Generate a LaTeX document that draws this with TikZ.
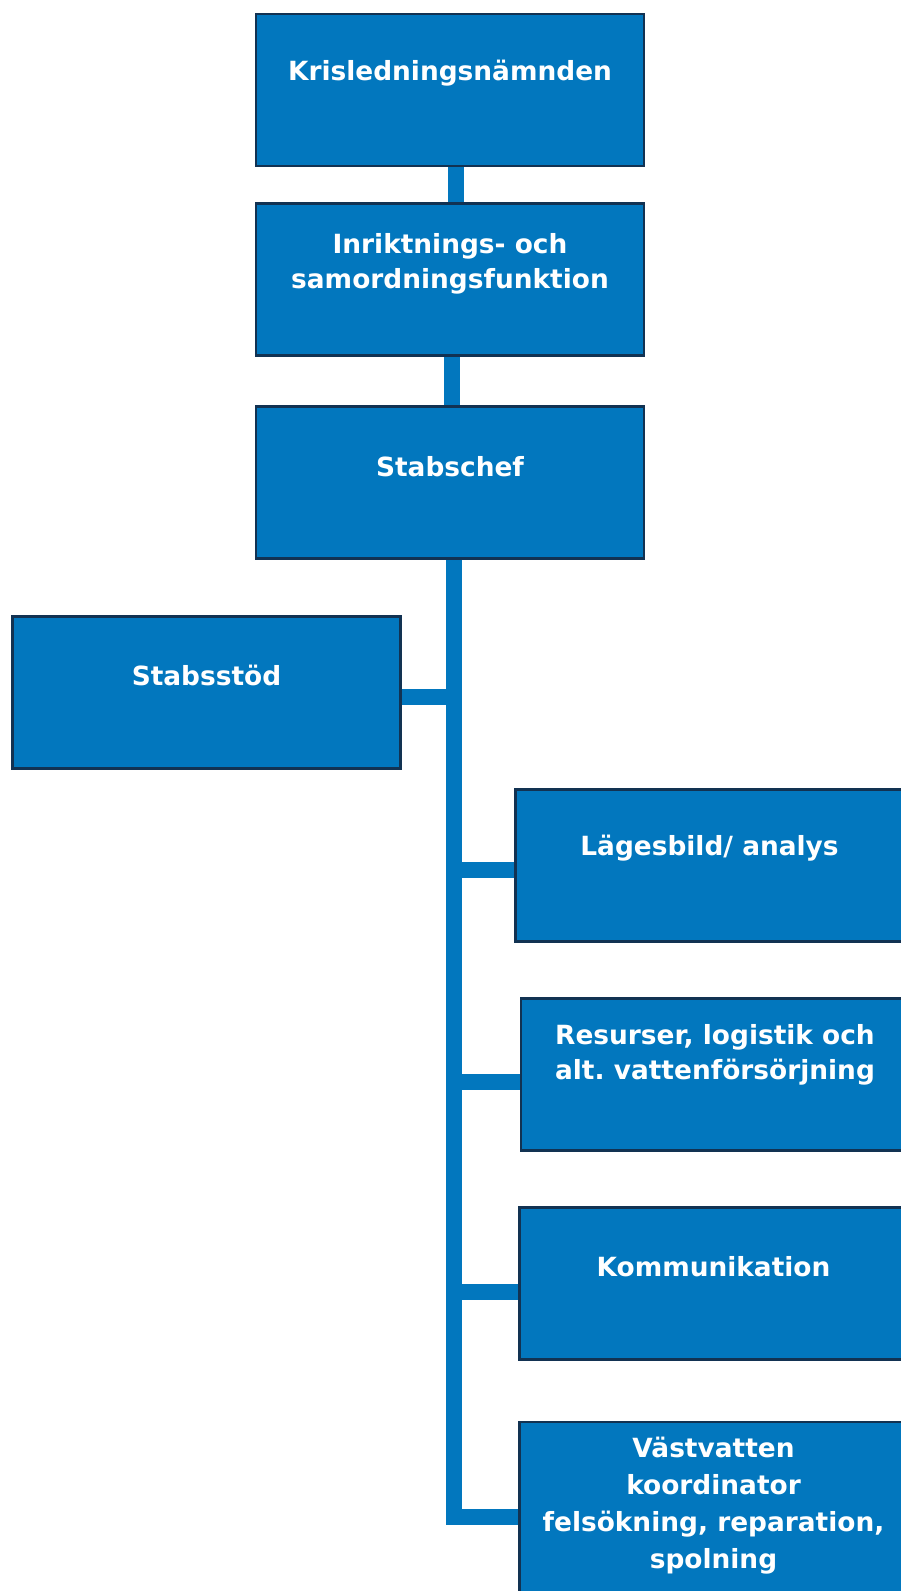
\documentclass[tikz,border=0pt]{standalone}
\usepackage{fontspec}
\setmainfont{DejaVu Sans}

\definecolor{orgblue}{RGB}{2,119,190}
\definecolor{orgedge}{RGB}{18,50,82}

\tikzset{
  orgbox/.style={draw=orgedge, line width=2.5pt, fill=orgblue, minimum width=388pt, minimum height=152pt, inner sep=0pt},
  orgtext/.style={text=white, font=\bfseries\fontsize{26.4}{35}\selectfont, align=center, inner sep=0pt},
  link/.style={orgblue, line width=16pt}
}

\begin{document}
\begin{tikzpicture}[x=1pt, y=-1pt]
  \useasboundingbox (0,0) rectangle (900,1591);
  % boxes
  \node [orgbox] (krl) at (450, 90) {};
  \node [orgbox] (inr) at (450, 279.5) {};
  \node [orgbox] (chef) at (450, 482.5) {};
  \node [orgbox] (stod) at (206.5, 692.5) {};
  \node [orgbox] (lage) at (709.5, 865.5) {};
  \node [orgbox] (res) at (715, 1074.5) {};
  \node [orgbox] (kom) at (713.5, 1283.5) {};
  \node [orgbox, minimum height=240pt] (vast) at (713.5, 1542) {};
  % connectors
  \draw [link] ([xshift=6pt]krl.south) -- ([xshift=6pt]inr.north);
  \draw [link] ([xshift=2pt]inr.south) -- ([xshift=2pt]chef.north);
  \draw [link] ([xshift=4pt]chef.south) |- ([yshift=25pt]vast.west);
  \draw [link] ([yshift=-4pt]stod.east) -- ([yshift=-4pt, xshift=4pt]stod.east -| chef.south);
  \draw [link] ([yshift=-4pt]lage.west) -- ([yshift=-4pt, xshift=4pt]lage.west -| chef.south);
  \draw [link] ([yshift=-7pt]res.west) -- ([yshift=-7pt, xshift=4pt]res.west -| chef.south);
  \draw [link] ([yshift=-8pt]kom.west) -- ([yshift=-8pt, xshift=4pt]kom.west -| chef.south);
  % texts
  \node [orgtext] at ([yshift=-60pt]krl.north) {Krisledningsnämnden};
  \node [orgtext] at ([yshift=-62pt]inr.north) {Inriktnings- och\\samordningsfunktion};
  \node [orgtext] at ([yshift=-61pt]chef.north) {Stabschef};
  \node [orgtext] at ([yshift=-60pt]stod.north) {Stabsstöd};
  \node [orgtext] at ([yshift=-60pt]lage.north) {Lägesbild/ analys};
  \node [orgtext] at ([yshift=-58pt]res.north) {Resurser, logistik och\\alt.\ vattenförsörjning};
  \node [orgtext] at ([yshift=-60pt]kom.north) {Kommunikation};
  \node [orgtext, font=\bfseries\fontsize{26.4}{37}\selectfont] at ([yshift=-85pt]vast.north) {Västvatten\\koordinator\\felsökning, reparation,\\spolning};
\end{tikzpicture}
\end{document}
